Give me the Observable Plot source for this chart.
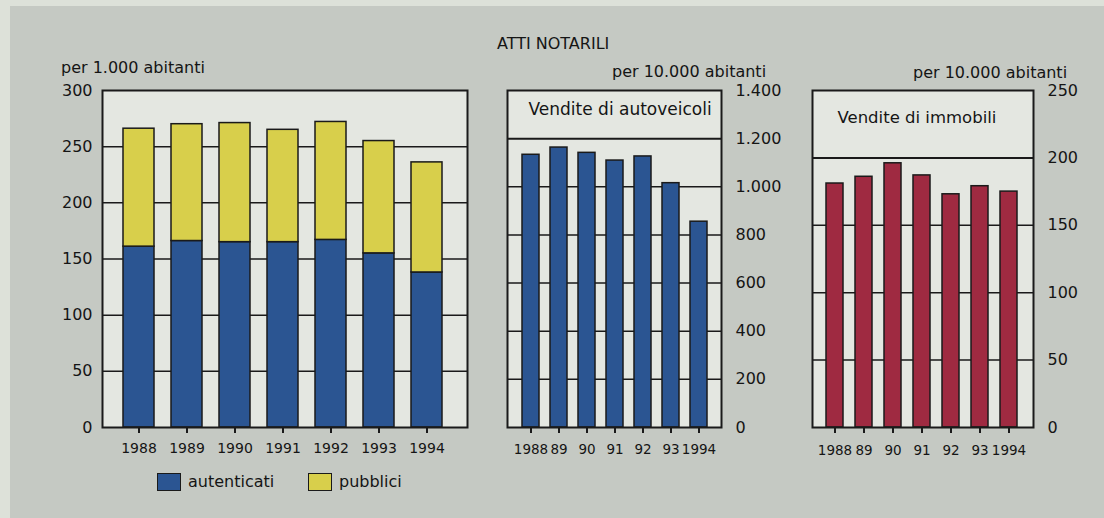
<!DOCTYPE html>
<html>
<head>
<meta charset="utf-8">
<script src="https://cdn.jsdelivr.net/npm/d3@7"></script>
<script src="https://cdn.jsdelivr.net/npm/@observablehq/plot@0.6"></script>
<style>
  html, body { margin: 0; padding: 0; }
  body { width: 1104px; height: 518px; background: #dde1d9; position: relative; overflow: hidden;
         font-family: "DejaVu Sans", sans-serif; color: #151515; }
  #page { position: absolute; left: 10px; top: 6px; right: 0; bottom: 0; background: #c5c9c3; }
  .abs { position: absolute; white-space: nowrap; line-height: 16px; font-size: 16px; }
  .chart { position: absolute; top: 0; }
  .sw { position: absolute; width: 22px; height: 16px; border: 1.5px solid #1a1a1a; }
</style>
</head>
<body>
<div id="page"></div>
<div class="abs" style="left:497px; top:36px;">ATTI NOTARILI</div>
<div class="abs" style="left:61px; top:60px;">per 1.000 abitanti</div>
<div class="abs" style="left:612px; top:64px;">per 10.000 abitanti</div>
<div class="abs" style="left:913px; top:65px;">per 10.000 abitanti</div>
<div id="c1" class="chart" style="left:0px;"></div>
<div id="c2" class="chart" style="left:490px;"></div>
<div id="c3" class="chart" style="left:795px;"></div>
<div id="legend"></div>
<script>
// ---- data ----
const years = ["1988", "1989", "1990", "1991", "1992", "1993", "1994"];
const autenticati = [161, 166, 165, 165, 167, 155, 138];
const pubblici = [105, 104, 106, 100, 105, 100, 98];
const autoveicoli = [1133, 1163, 1141, 1109, 1126, 1015, 855];
const immobili = [181, 186, 196, 187, 173, 179, 175];
const shortYearLabels = ["1988", "89", "90", "91", "92", "93", "1994"];
const seriesNames = ["autenticati", "pubblici"];
const seriesColors = ["#2b5592", "#d8cf4b"];
const leftTicks = [0, 50, 100, 150, 200, 250, 300];
const leftGrid = [50, 100, 150, 200, 250];
const autoTicks = [0, 200, 400, 600, 800, 1000, 1200, 1400];
const autoGrid = [200, 400, 600, 800, 1000];
const autoHeader = [1200];
const immTicks = [0, 50, 100, 150, 200, 250];
const immGrid = [50, 100, 150];
const immHeader = [200];

// ---- styles ----
const plotBg = "#e4e7e1";
const ink = "#1a1a1a";
const textInk = "#151515";
const font = "DejaVu Sans, sans-serif";
const itFmt = d => d3.format(",")(d).replace(/,/g, ".");
const shortLabel = d => shortYearLabels[years.indexOf(d)];

// ---- left: stacked ----
const stacked = [];
years.forEach((y, i) => {
  stacked.push({year: y, type: seriesNames[0], value: autenticati[i]});
  stacked.push({year: y, type: seriesNames[1], value: pubblici[i]});
});

const p1 = Plot.plot({
  width: 480, height: 470,
  marginLeft: 102, marginRight: 13, marginTop: 90, marginBottom: 43,
  style: {background: "transparent", fontFamily: font, color: textInk, overflow: "visible"},
  x: {domain: years, paddingInner: 0.35, paddingOuter: 0.47, align: 0.45, label: null},
  y: {domain: [0, 300], label: null},
  color: {domain: seriesNames, range: seriesColors},
  marks: [
    Plot.frame({fill: plotBg, stroke: null}),
    Plot.ruleY(leftGrid, {stroke: ink, strokeWidth: 1.5}),
    Plot.barY(stacked, {x: "year", y: "value", fill: "type", stroke: ink, strokeWidth: 1.5}),
    Plot.frame({stroke: ink, strokeWidth: 2}),
    Plot.axisY(leftTicks, {tickSize: 0, tickPadding: 10, fontSize: 16, label: null, fill: textInk}),
    Plot.axisX({tickSize: 6, tickPadding: 10, fontSize: 14, strokeWidth: 2, stroke: ink, label: null, fill: textInk})
  ]
});
document.getElementById("c1").appendChild(p1);

// ---- middle: autoveicoli ----
const autoData = years.map((y, i) => ({year: y, value: autoveicoli[i]}));
const p2 = Plot.plot({
  width: 301, height: 470,
  marginLeft: 17, marginRight: 70, marginTop: 90, marginBottom: 43,
  style: {background: "transparent", fontFamily: font, color: textInk, overflow: "visible"},
  x: {domain: years, paddingInner: 0.41, paddingOuter: 0.5, align: 0.52, label: null},
  y: {domain: [0, 1400], label: null},
  marks: [
    Plot.frame({fill: plotBg, stroke: null}),
    Plot.ruleY(autoGrid, {stroke: ink, strokeWidth: 1.5}),
    Plot.ruleY(autoHeader, {stroke: ink, strokeWidth: 2}),
    Plot.barY(autoData, {x: "year", y: "value", fill: seriesColors[0], stroke: ink, strokeWidth: 1.5}),
    Plot.text(["Vendite di autoveicoli"], {frameAnchor: "top-left", dx: 21, dy: 12, fontSize: 17, textAnchor: "start", fill: textInk}),
    Plot.frame({stroke: ink, strokeWidth: 2}),
    Plot.axisY(autoTicks, {anchor: "right", tickSize: 0, tickPadding: 14, fontSize: 16, tickFormat: itFmt, label: null, fill: textInk}),
    Plot.axisX({tickSize: 6, tickPadding: 11, fontSize: 13.5, strokeWidth: 2, stroke: ink, tickFormat: shortLabel, label: null, fill: textInk})
  ]
});
document.getElementById("c2").appendChild(p2);

// ---- right: immobili ----
const immData = years.map((y, i) => ({year: y, value: immobili[i]}));
const p3 = Plot.plot({
  width: 293, height: 470,
  marginLeft: 17, marginRight: 55, marginTop: 90, marginBottom: 43,
  style: {background: "transparent", fontFamily: font, color: textInk, overflow: "visible"},
  x: {domain: years, paddingInner: 0.42, paddingOuter: 0.48, align: 0.48, label: null},
  y: {domain: [0, 250], label: null},
  marks: [
    Plot.frame({fill: plotBg, stroke: null}),
    Plot.ruleY(immGrid, {stroke: ink, strokeWidth: 1.5}),
    Plot.ruleY(immHeader, {stroke: ink, strokeWidth: 2}),
    Plot.barY(immData, {x: "year", y: "value", fill: "#9f2a41", stroke: ink, strokeWidth: 1.5}),
    Plot.text(["Vendite di immobili"], {frameAnchor: "top-left", dx: 25, dy: 21, fontSize: 16.5, textAnchor: "start", fill: textInk}),
    Plot.frame({stroke: ink, strokeWidth: 2}),
    Plot.axisY(immTicks, {anchor: "right", tickSize: 0, tickPadding: 14, fontSize: 16, label: null, fill: textInk}),
    Plot.axisX({tickSize: 6, tickPadding: 12, fontSize: 13.5, strokeWidth: 2, stroke: ink, tickFormat: shortLabel, label: null, fill: textInk})
  ]
});
document.getElementById("c3").appendChild(p3);

// ---- legend ----
const legend = document.getElementById("legend");
const legendX = [157, 308];
seriesNames.forEach((name, i) => {
  const sw = document.createElement("div");
  sw.className = "sw";
  sw.style.left = legendX[i] + "px";
  sw.style.top = "473px";
  sw.style.background = seriesColors[i];
  legend.appendChild(sw);
  const t = document.createElement("div");
  t.className = "abs";
  t.style.left = (legendX[i] + 31) + "px";
  t.style.top = "474px";
  t.textContent = name;
  legend.appendChild(t);
});
</script>
</body>
</html>
